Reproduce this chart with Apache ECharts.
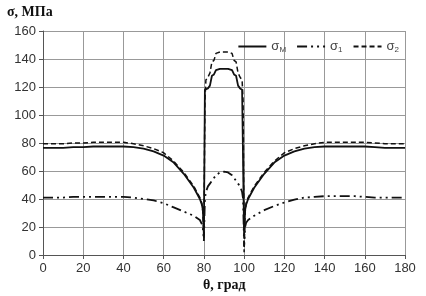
<!DOCTYPE html>
<html>
<head>
<meta charset="utf-8">
<script src="https://cdn.jsdelivr.net/npm/echarts@6/dist/echarts.min.js"></script>
<style>
  html, body { margin: 0; padding: 0; background: #fff; }
  #chart { width: 426px; height: 296px; }
</style>
</head>
<body>
<div id="chart"></div>
<script>
// угол, град
const theta = [0, 5, 10, 15, 20, 25, 30, 35, 40, 45, 50, 55, 60, 65, 70, 75, 78, 79, 79.5, 80, 80.5, 81, 82, 83, 84, 85, 86, 88, 90,
  92, 94, 95, 96, 97, 98, 99, 99.5, 100, 100.5, 101, 102, 105, 110, 115, 120, 125, 130, 135, 140, 145, 150, 155, 160, 165, 170, 175, 180];
// sigma M
const sigmaM = [76.5, 76.5, 76.5, 77, 77, 77.5, 77.5, 77.5, 77.5, 77, 76, 74, 71, 66, 58, 48, 40, 36, 32, 14, 118, 118, 119, 121, 128, 129, 132, 133, 133,
  133, 132, 129, 128, 121, 119, 118, 118, 14, 32, 36, 40, 48, 58, 66, 71, 74, 76, 77, 77.5, 77.5, 77.5, 77.5, 77.5, 77, 76.5, 76.5, 76.5];
// sigma 1
const sigma1 = [41, 41, 41, 41.5, 41.5, 41.5, 41.5, 41.5, 41.5, 41, 40, 39, 37, 34, 31, 28, 25, 22, 19, 10, 40, 45, 49, 51, 53, 55, 57, 59, 59.5,
  59, 57, 55, 53, 51, 49, 45, 40, 6, 20, 23, 25, 28, 32, 35, 37.5, 39.5, 41, 41.5, 42, 42, 42, 42, 41.5, 41, 41, 41, 41];
// sigma 2
const sigma2 = [79.5, 79.5, 79.5, 80, 80, 80.5, 80.5, 80.5, 80.5, 79.5, 78, 76, 73, 67, 59, 49, 41, 37, 30, 12, 110, 125, 127, 130, 138, 139, 144, 145, 145,
  145, 144, 139, 138, 130, 127, 125, 110, 2, 30, 37, 41, 49, 59, 67, 73, 76, 78, 79.5, 80.5, 80.5, 80.5, 80.5, 80.5, 80, 79.5, 79.5, 79.5];
const xTicks = [0, 20, 40, 60, 80, 100, 120, 140, 160, 180];
const yTicks = [0, 20, 40, 60, 80, 100, 120, 140, 160];

const pairs = (ys) => theta.map((t, i) => [t, ys[i]]);

const chart = echarts.init(document.getElementById('chart'));
const serif = '"Liberation Serif", "DejaVu Serif", serif';
const sans = '"Liberation Sans", Arial, sans-serif';

const mkSeries = (name, data, type, width) => ({
  name: name,
  type: 'line',
  data: data,
  symbol: 'none',
  animation: false,
  lineStyle: { color: '#111', width: width, type: type },
  itemStyle: { color: '#111' }
});

chart.setOption({
  animation: false,
  grid: { left: 43, right: 21, top: 31, bottom: 41 },
  title: [
    { text: 'σ, МПа', left: 2, top: 0, textStyle: { fontFamily: serif, fontWeight: 'bold', fontSize: 14, color: '#111' } },
    { text: 'θ, град', left: 198, top: 273, textStyle: { fontFamily: serif, fontWeight: 'bold', fontSize: 14, color: '#111' } }
  ],
  legend: {
    right: 22, top: 35,
    itemWidth: 28, itemHeight: 10, itemGap: 10,
    data: ['sM', 's1', 's2'],
    itemStyle: { opacity: 0 },
    formatter: (n) => '{s|σ}{sub|' + ({ sM: 'M', s1: '1', s2: '2' })[n] + '}',
    textStyle: {
      rich: {
        s: { fontFamily: sans, fontSize: 13, color: '#444' },
        sub: { fontFamily: sans, fontSize: 8, color: '#444', verticalAlign: 'bottom', padding: [6, 0, 0, 0] }
      }
    }
  },
  xAxis: {
    type: 'value', min: 0, max: 180, interval: 20,
    axisLine: { lineStyle: { color: '#555' } },
    axisTick: { show: true, length: 4, lineStyle: { color: '#555' } },
    axisLabel: { fontFamily: sans, fontSize: 13, color: '#333', margin: 7,
      formatter: (v) => xTicks.includes(v) ? String(v) : '' },
    splitLine: { show: true, lineStyle: { color: '#999', width: 1 } }
  },
  yAxis: {
    type: 'value', min: 0, max: 160, interval: 20,
    axisLine: { show: true, lineStyle: { color: '#555' } },
    axisTick: { show: true, length: 4, lineStyle: { color: '#555' } },
    axisLabel: { fontFamily: sans, fontSize: 13, color: '#333', margin: 7,
      formatter: (v) => yTicks.includes(v) ? String(v) : '' },
    splitLine: { show: true, lineStyle: { color: '#999', width: 1 } }
  },
  series: [
    mkSeries('sM', pairs(sigmaM), 'solid', 1.8),
    mkSeries('s1', pairs(sigma1), [10, 4, 2, 4, 2, 4], 1.8),
    mkSeries('s2', pairs(sigma2), [5, 3], 1.5)
  ]
});
</script>
</body>
</html>
